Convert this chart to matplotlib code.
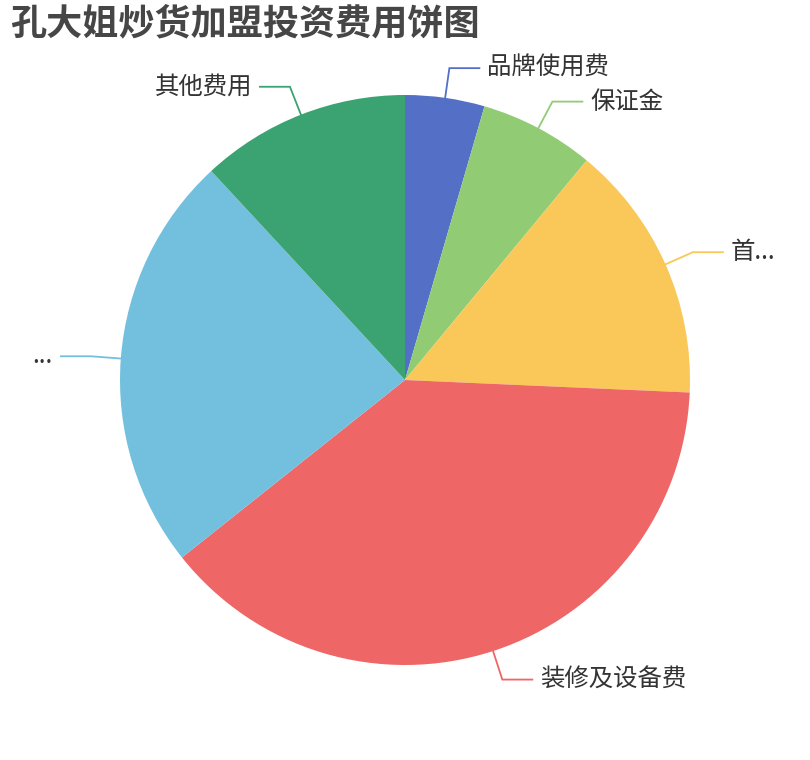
import matplotlib
matplotlib.use('Agg')
import matplotlib.pyplot as plt
import numpy as np

plt.rcParams['font.family'] = ['Noto Sans CJK SC', 'DejaVu Sans']

# 投资费用 (estimated shares)
labels = ['品牌使用费', '保证金', '首...', '装修及设备费', '...', '其他费用']
values = [4.5, 6.5, 14.7, 38.6, 23.8, 11.9]
colors = ['#5470c6', '#91cc75', '#fac858', '#ee6666', '#73c0de', '#3ba272']

W, H = 810, 760
CX, CY, R = 405, 380, 285

fig = plt.figure(figsize=(W / 100, H / 100), dpi=100)
ax = fig.add_axes([0, 0, 1, 1])

wedges, _ = ax.pie(values, colors=colors, startangle=90, counterclock=False,
                   center=(CX, H - CY), radius=R,
                   wedgeprops=dict(linewidth=0, antialiased=True))

# pie() resets the limits, so set them afterwards
ax.set_xlim(0, W)
ax.set_ylim(0, H)
ax.set_aspect('equal')
ax.axis('off')

# label lines: out along the mid angle, then horizontal
len1, len2, gap = 30, 30, 8
for w, lab, col in zip(wedges, labels, colors):
    mid = np.deg2rad((w.theta1 + w.theta2) / 2)
    ux, uy = np.cos(mid), np.sin(mid)
    x0, y0 = CX + R * ux, H - CY + R * uy
    x1, y1 = CX + (R + len1) * ux, H - CY + (R + len1) * uy
    side = 1 if ux >= 0 else -1
    x2 = x1 + side * len2
    ax.plot([x0, x1, x2], [y0, y1, y1], color=col, lw=1.3,
            solid_joinstyle='miter')
    ax.text(x2 + side * gap, y1, lab, fontsize=17.6, color='#333333',
            ha='left' if side > 0 else 'right', va='center')

fig.text(10 / W, 1 - 24 / H, '孔大姐炒货加盟投资费用饼图', fontsize=26,
         fontweight='bold', color='#464646', ha='left', va='center')

fig.savefig('out.png', dpi=100)
